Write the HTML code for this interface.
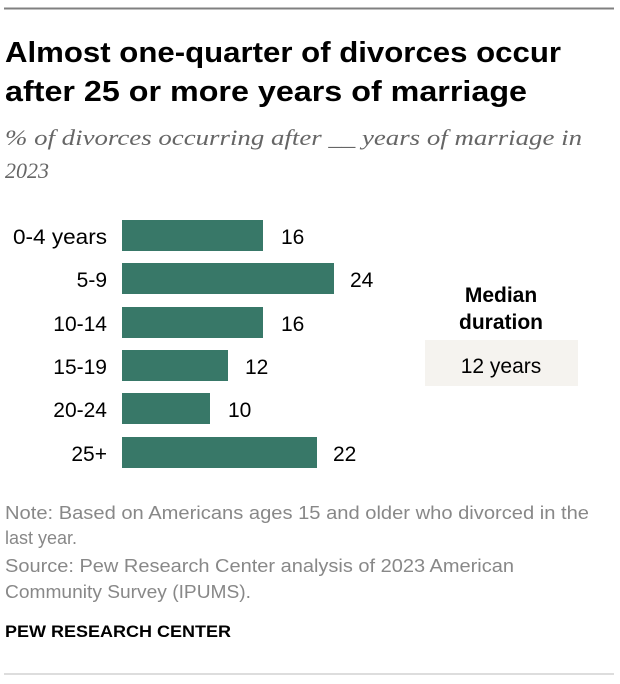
<!DOCTYPE html>
<html><head><meta charset="utf-8"><style>
html,body{margin:0;padding:0;background:#fff;}
svg{display:block;}
</style></head><body>
<svg width="620" height="684" viewBox="0 0 620 684" xmlns="http://www.w3.org/2000/svg">
<rect x="0" y="0" width="620" height="684" fill="#fff"/>
<line x1="4" y1="8.5" x2="614" y2="8.5" stroke="#808080" stroke-width="2"/>
<g font-family="Liberation Sans, sans-serif" font-weight="bold" font-size="29" fill="#000">
<text x="5" y="62" textLength="556" lengthAdjust="spacingAndGlyphs">Almost one-quarter of divorces occur</text>
<text x="5" y="101" textLength="522" lengthAdjust="spacingAndGlyphs">after 25 or more years of marriage</text>
</g>
<g font-family="Liberation Serif, serif" font-style="italic" font-size="22" fill="#666">
<text x="5" y="145" textLength="577" lengthAdjust="spacingAndGlyphs">% of divorces occurring after __ years of marriage in</text>
<text x="5" y="178">2023</text>
</g>
<g fill="#387868">
<rect x="122" y="220" width="141" height="31"/>
<rect x="122" y="263" width="212" height="31"/>
<rect x="122" y="307" width="141" height="31"/>
<rect x="122" y="350" width="106" height="31"/>
<rect x="122" y="393" width="88" height="31"/>
<rect x="122" y="437" width="195" height="31"/>
</g>
<g font-family="Liberation Sans, sans-serif" font-size="21" fill="#000" text-anchor="end">
<text x="107" y="244" textLength="94" lengthAdjust="spacingAndGlyphs">0-4 years</text>
<text x="107" y="287">5-9</text>
<text x="107" y="331">10-14</text>
<text x="107" y="374">15-19</text>
<text x="107" y="417">20-24</text>
<text x="107" y="461">25+</text>
</g>
<g font-family="Liberation Sans, sans-serif" font-size="21" fill="#000">
<text x="281" y="244">16</text>
<text x="350" y="287">24</text>
<text x="281" y="331">16</text>
<text x="245" y="374">12</text>
<text x="228" y="417">10</text>
<text x="333" y="461">22</text>
</g>
<g font-family="Liberation Sans, sans-serif" font-weight="bold" font-size="21" fill="#000" text-anchor="middle">
<text x="501" y="302">Median</text>
<text x="501" y="329">duration</text>
</g>
<rect x="425" y="340" width="153" height="46" fill="#f5f3ef"/>
<text x="501" y="373" font-family="Liberation Sans, sans-serif" font-size="21" text-anchor="middle" fill="#000">12 years</text>
<g font-family="Liberation Sans, sans-serif" font-size="18" fill="#888">
<text x="5" y="519" textLength="584" lengthAdjust="spacingAndGlyphs">Note: Based on Americans ages 15 and older who divorced in the</text>
<text x="5" y="544">last year.</text>
<text x="5" y="572" textLength="509" lengthAdjust="spacingAndGlyphs">Source: Pew Research Center analysis of 2023 American</text>
<text x="5" y="598" textLength="246" lengthAdjust="spacingAndGlyphs">Community Survey (IPUMS).</text>
</g>
<text x="5" y="637" font-family="Liberation Sans, sans-serif" font-weight="bold" font-size="17" fill="#000" textLength="226" lengthAdjust="spacingAndGlyphs">PEW RESEARCH CENTER</text>
<line x1="4" y1="674" x2="614" y2="674" stroke="#bbb" stroke-width="1"/>
</svg>
</body></html>
